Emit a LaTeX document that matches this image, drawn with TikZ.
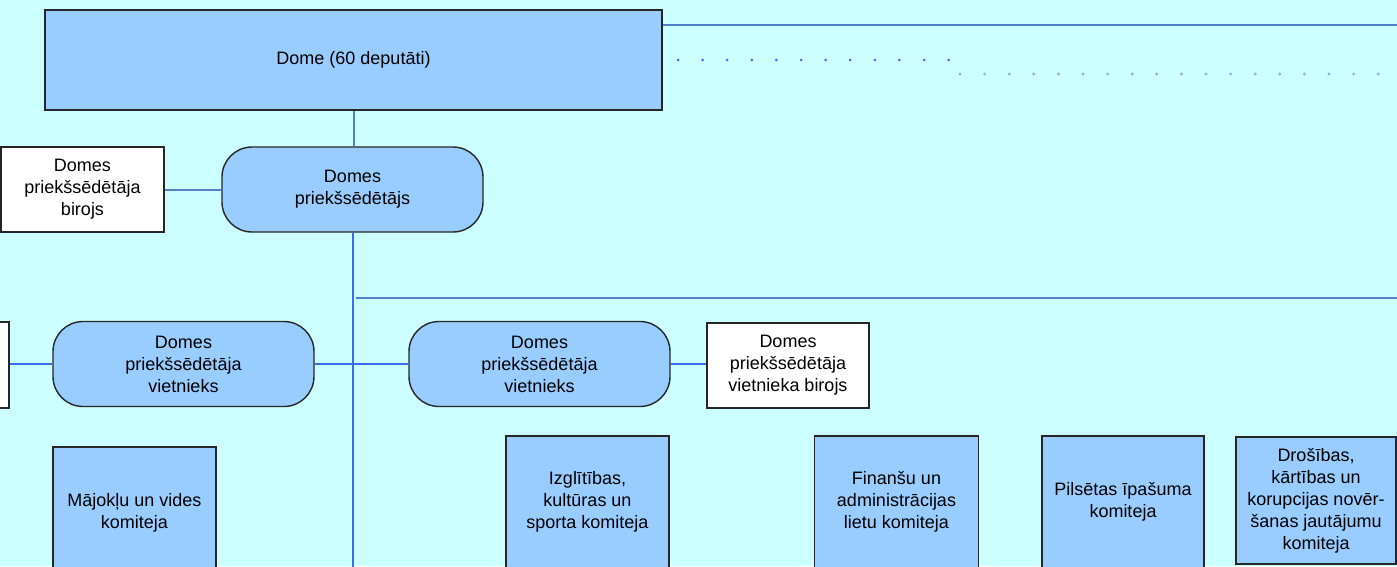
\documentclass[tikz,border=0pt]{standalone}
\usepackage{fontspec}
\setmainfont{Liberation Sans}
\definecolor{bg}{HTML}{CCFFFF}
\definecolor{boxfill}{HTML}{99CCFF}
\definecolor{brightline}{HTML}{3A6CF4}
\definecolor{dullline}{HTML}{5080CC}
\definecolor{dotA}{HTML}{4A70E8}
\definecolor{dotB}{HTML}{8FAEEA}
\begin{document}
\begin{tikzpicture}[x=1pt,y=-1pt,
  txt/.style={font=\fontsize{18}{22}\selectfont, align=center, inner sep=0pt, text=black},
  bluebox/.style={txt, draw=black!85, line width=1.4pt, fill=boxfill},
  whitebox/.style={txt, draw=black!85, line width=1.4pt, fill=white},
  roundbox/.style={bluebox, rounded corners=30pt},
  mainline/.style={draw=brightline, line width=2pt},
  thinline/.style={draw=dullline, line width=2pt},
]
\useasboundingbox (0,0) rectangle (1397,566);
\clip (0,0) rectangle (1397,566);
\fill[bg] (0,0) rectangle (1397,566);

% coordinates for free ends
\coordinate (tR) at (1400,25);
\coordinate (hL) at (356,297.5);
\coordinate (hR) at (1400,297.5);
\coordinate (bottom) at (353,575);

% nodes
\node[bluebox, minimum width=617pt, minimum height=100pt] (dome) at (353.5,60) {Dome (60 deputāti)};
\node[roundbox, minimum width=261pt, minimum height=85pt] (chair) at (352.5,189.5) {Domes\\priekšsēdētājs};
\node[whitebox, minimum width=163pt, minimum height=85pt] (off1) at (82.5,189.5) {Domes\\priekšsēdētāja\\birojs};
\node[whitebox, minimum width=49pt, minimum height=86pt] (leftoff) at (-15.5,365) {};
\node[roundbox, minimum width=261pt, minimum height=85pt] (vice1) at (183.5,364) {Domes\\priekšsēdētāja\\vietnieks};
\node[roundbox, minimum width=261pt, minimum height=85pt] (vice2) at (539.5,364) {Domes\\priekšsēdētāja\\vietnieks};
\node[whitebox, minimum width=162pt, minimum height=85pt] (off2) at (788,365.5) {Domes\\priekšsēdētāja\\vietnieka birojs};
\node[bluebox, minimum width=163pt, minimum height=132pt] (kom1) at (134.5,513) {Mājokļu un vides\\komiteja};
\node[bluebox, minimum width=163pt, minimum height=132pt] (kom2) at (587.5,502) {Izglītības,\\kultūras un\\sporta komiteja};
\node[bluebox, minimum width=164pt, minimum height=132pt] (kom3) at (896.5,502) {Finanšu un\\administrācijas\\lietu komiteja};
\node[bluebox, minimum width=162pt, minimum height=132pt] (kom4) at (1123,502) {Pilsētas īpašuma\\komiteja};
\node[bluebox, minimum width=160pt, minimum height=127pt] (kom5) at (1316,500.5) {Drošības,\\kārtības un\\korupcijas novēr-\\šanas jautājumu\\komiteja};

% connectors
\draw[thinline] (dome.south) -- (dome.south |- chair.north);
\draw[thinline] (off1.east) -- (chair.west);
\draw[mainline] (chair.south) -- (chair.south |- bottom);
\draw[thinline] (hL) -- (hR);
\draw[thinline] (dome.east |- tR) -- (tR);
\draw[mainline] (leftoff.east |- vice1.west) -- (vice1.west);
\draw[mainline] (vice1.east) -- (vice2.west);
\draw[mainline] (vice2.east) -- (vice2.east -| off2.west);

% dotted rows
\foreach \i in {0,...,11} \fill[dotA] (678+24.6*\i,60) circle (1.5pt);
\foreach \i in {0,...,17} \fill[dotB] (960+24.6*\i,74) circle (1.6pt);
\end{tikzpicture}
\end{document}
